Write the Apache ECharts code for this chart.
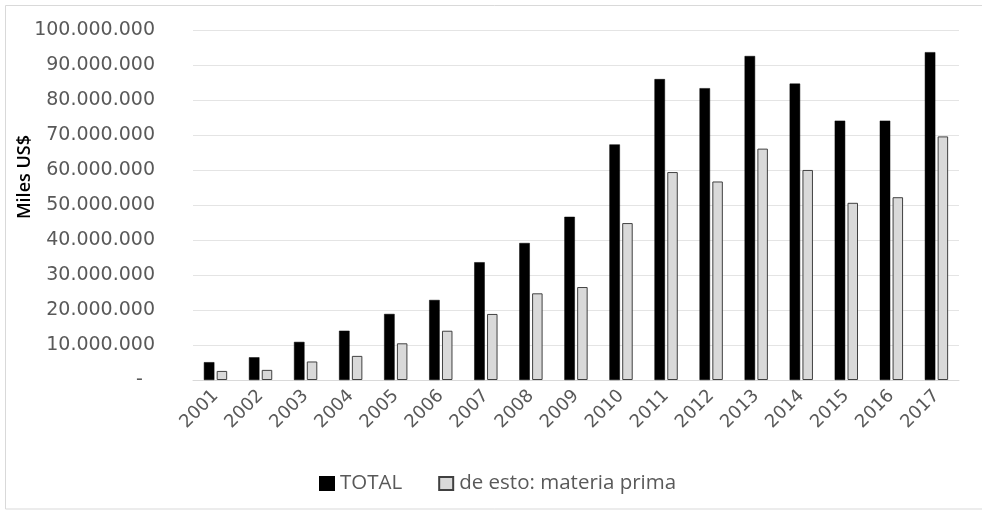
<!DOCTYPE html>
<html>
<head>
<meta charset="utf-8">
<script src="https://cdn.jsdelivr.net/npm/echarts@6/dist/echarts.min.js"></script>
<style>
html,body{margin:0;padding:0;background:#fff;}
#chart{width:982px;height:511px;}
</style>
</head>
<body>
<div id="chart"></div>
<script>
const categories = ['2001','2002','2003','2004','2005','2006','2007','2008','2009','2010','2011','2012','2013','2014','2015','2016','2017'];
const totalValues = [5100000, 6500000, 10900000, 14100000, 18900000, 22900000, 33700000, 39200000, 46700000, 67400000, 86100000, 83500000, 92700000, 84800000, 74200000, 74200000, 93800000];
const materiaValues = [2600000, 2900000, 5300000, 6900000, 10500000, 14100000, 18900000, 24800000, 26600000, 44900000, 59500000, 56800000, 66200000, 60100000, 50700000, 52300000, 69700000];
const seriesNames = ['TOTAL', 'de esto: materia prima'];
const yAxisTitle = 'Miles US$';

function fmt(v){
  if (v === 0) return '-  ';
  return String(Math.round(v)).replace(/\B(?=(\d{3})+(?!\d))/g, '.');
}

const chart = echarts.init(document.getElementById('chart'), null, {renderer:'canvas'});
chart.setOption({
  backgroundColor: '#ffffff',
  animation: false,
  grid: {left: 193, right: 23, top: 30.5, bottom: 131, containLabel: false},
  legend: {
    left: 314, top: 468,
    itemWidth: 14, itemHeight: 13, itemGap: 36,
    icon: 'rect',
    textStyle: {fontFamily: 'Open Sans', fontSize: 20.5, color: '#595959', padding: [0,0,0,1]},
    data: seriesNames
  },
  xAxis: {
    type: 'category',
    data: categories,
    axisLine: {show: true, lineStyle: {color: '#d9d9d9', width: 1}},
    axisTick: {show: false},
    axisLabel: {rotate: 45, margin: 13, fontFamily: 'DejaVu Sans', fontSize: 18, color: '#595959', interval: 0}
  },
  yAxis: {
    type: 'value',
    min: 0, max: 100000000, interval: 10000000,
    axisLine: {show: false},
    axisTick: {show: false},
    splitLine: {lineStyle: {color: '#e4e4e4', width: 1}},
    axisLabel: {formatter: fmt, margin: 38, fontFamily: 'DejaVu Sans', fontSize: 19, color: '#595959'}
  },
  series: [
    {
      name: seriesNames[0], type: 'bar', data: totalValues,
      barWidth: 10.5, barGap: '22%',
      itemStyle: {color: '#000000', borderColor: '#000000', borderWidth: 0.5}
    },
    {
      name: seriesNames[1], type: 'bar', data: materiaValues,
      barWidth: 10.5,
      itemStyle: {color: '#d9d9d9', borderColor: '#404040', borderWidth: 1}
    }
  ],
  graphic: [
    {type: 'rect', shape: {x: 5.5, y: 5.5, width: 1000, height: 503.5}, style: {fill: 'none', stroke: '#d9d9d9', lineWidth: 1}, silent: true},
    {type: 'text', x: 25, y: 177, rotation: Math.PI/2,
     style: {text: yAxisTitle, fontFamily: 'Open Sans', fontSize: 18, fontWeight: 600, fill: '#000000', align: 'center', verticalAlign: 'middle'}}
  ]
});
</script>
</body>
</html>
